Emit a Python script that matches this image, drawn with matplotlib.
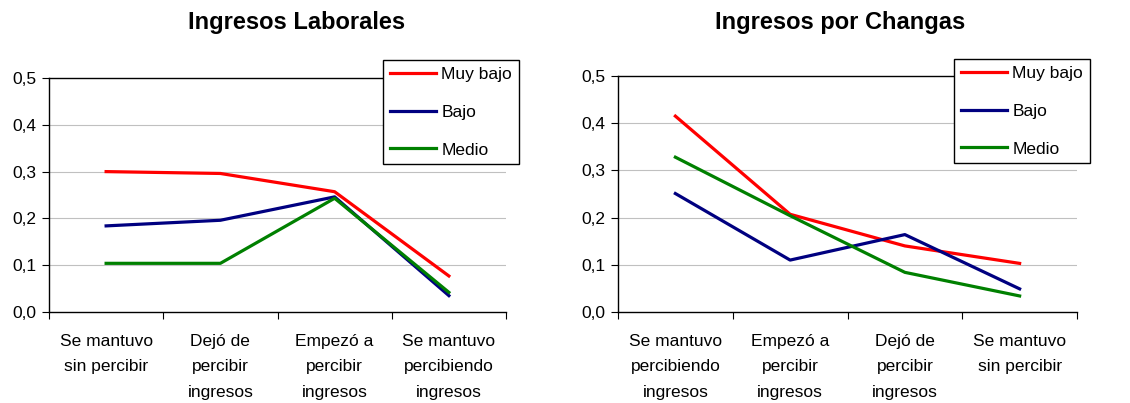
import numpy as np
import matplotlib.pyplot as plt

plt.rcParams['font.family'] = ['Liberation Sans', 'DejaVu Sans']

series = ['Muy bajo', 'Bajo', 'Medio']
colors = ['#ff0000', '#000080', '#008000']

lab_title = 'Ingresos Laborales'
lab_cats = ['Se mantuvo\nsin percibir', 'Dejó de\npercibir\ningresos',
            'Empezó a\npercibir\ningresos', 'Se mantuvo\npercibiendo\ningresos']
lab_muy_bajo = [0.300, 0.296, 0.257, 0.077]
lab_bajo = [0.184, 0.196, 0.246, 0.035]
lab_medio = [0.104, 0.104, 0.243, 0.042]

cha_title = 'Ingresos por Changas'
cha_cats = ['Se mantuvo\npercibiendo\ningresos', 'Empezó a\npercibir\ningresos',
            'Dejó de\npercibir\ningresos', 'Se mantuvo\nsin percibir']
cha_muy_bajo = [0.415, 0.207, 0.140, 0.103]
cha_bajo = [0.251, 0.110, 0.164, 0.049]
cha_medio = [0.328, 0.204, 0.084, 0.034]

yticks = [0.0, 0.1, 0.2, 0.3, 0.4, 0.5]
ytick_labels = ['0,0', '0,1', '0,2', '0,3', '0,4', '0,5']

W, H = 1130, 403
fig = plt.figure(figsize=(W / 100, H / 100), dpi=100)


def panel(rect, title, cats, data, title_x, legend_xy):
    ax = fig.add_axes([rect[0] / W, 1 - rect[3] / H,
                       (rect[2] - rect[0]) / W, (rect[3] - rect[1]) / H])
    x = np.arange(len(cats))
    lines = []
    for vals, name, c in zip(data, series, colors):
        ln, = ax.plot(x, vals, color=c, lw=2.3, label=name, solid_joinstyle='round')
        lines.append(ln)
    ax.set_xlim(-0.5, len(cats) - 0.5)
    ax.set_ylim(0, 0.5)
    ax.set_yticks(yticks)
    ax.set_yticklabels(ytick_labels, fontsize=12.5)
    for yv in yticks[1:-1]:
        ax.axhline(yv, color='#c0c0c0', lw=0.8, zorder=0)
    ax.axhline(0.5, color='black', lw=1.0, zorder=0, clip_on=False)
    # category boundaries carry the ticks, centres carry the labels
    ax.set_xticks(np.arange(len(cats) + 1) - 0.5)
    ax.set_xticklabels([])
    ax.set_xticks(x, minor=True)
    ax.set_xticklabels(cats, minor=True, fontsize=12.5, linespacing=1.9, va='top')
    ax.tick_params(axis='x', which='major', length=5, direction='out')
    ax.tick_params(axis='x', which='minor', length=0, pad=15.5)
    ax.tick_params(axis='y', length=5, direction='out', pad=4)
    for s in ('top', 'right'):
        ax.spines[s].set_visible(False)
    for s in ('left', 'bottom'):
        ax.spines[s].set_linewidth(1.0)
    fig.text(title_x / W, 1 - 23 / H, title, fontsize=17, fontweight='bold',
             ha='center', va='center')
    leg = fig.legend(handles=lines, loc='upper left',
                     bbox_to_anchor=(legend_xy[0] / W, 1 - legend_xy[1] / H),
                     fontsize=12.5, frameon=True, fancybox=False, framealpha=1,
                     edgecolor='black', handlelength=2.65, handletextpad=0.3,
                     labelspacing=1.3, borderpad=0.4, borderaxespad=0)
    leg.get_frame().set_linewidth(1.0)
    return ax


panel((49, 78, 506, 312), lab_title, lab_cats, [lab_muy_bajo, lab_bajo, lab_medio],
      297, (383, 60))
panel((618, 76, 1077, 312), cha_title, cha_cats, [cha_muy_bajo, cha_bajo, cha_medio],
      840, (954, 59))

fig.savefig('out.png', dpi=100)
